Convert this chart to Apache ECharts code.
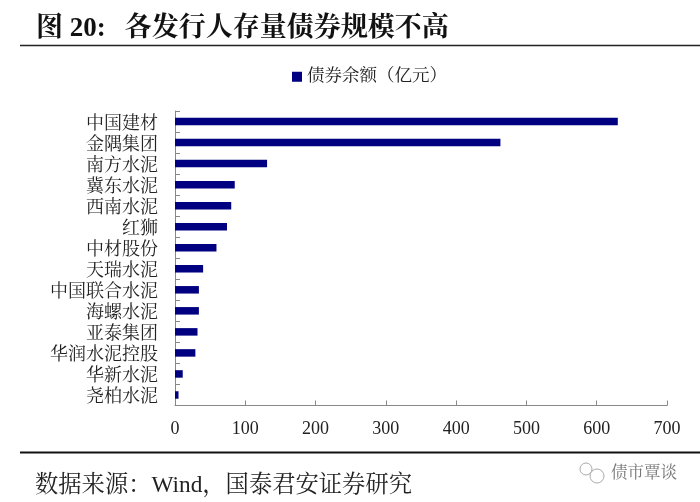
<!DOCTYPE html>
<html><head><meta charset="utf-8">
<style>html,body{margin:0;padding:0;background:#fff}#c{width:700px;height:502px}</style>
<script src="https://cdn.jsdelivr.net/npm/echarts@6/dist/echarts.min.js"></script>
</head><body><div id="c"></div>
<script>
const categories=["中国建材","金隅集团","南方水泥","冀东水泥","西南水泥","红狮","中材股份","天瑞水泥","中国联合水泥","海螺水泥","亚泰集团","华润水泥控股","华新水泥","尧柏水泥"];
const seriesName="债券余额（亿元）";
const values=[630,463,131,85,80,74,59,40,34,34,32,29,11,5];
const xTicks={min:0,max:700,interval:100};
const titleText="图 20:  \u2009各发行人存量债券规模不高";
const sourceText="数据来源：Wind，国泰君安证券研究";
const watermark="债市覃谈";
const ff='"Liberation Serif","Noto Serif CJK SC","Noto Sans CJK SC",serif';
const chart=echarts.init(document.getElementById('c'),null,{renderer:'canvas'});
chart.setOption({
 animation:false,backgroundColor:'#fff',
 title:{text:titleText,left:36,top:16,padding:0,textStyle:{fontFamily:ff,fontSize:27,fontWeight:'bold',color:'#111'}},
 legend:{data:[seriesName],left:292,top:68,padding:0,itemWidth:10,itemHeight:10,itemGap:6,icon:'rect',
  textStyle:{fontFamily:ff,fontSize:17.5,color:'#222'}},
 grid:{left:175,right:33,top:111,bottom:96.5,containLabel:false},
 xAxis:{type:'value',min:xTicks.min,max:xTicks.max,interval:xTicks.interval,splitLine:{show:false},
  axisLine:{show:true,lineStyle:{color:'#888'}},
  axisTick:{show:true,inside:true,length:5,lineStyle:{color:'#888'}},
  axisLabel:{fontFamily:ff,fontSize:18,color:'#222',margin:15}},
 yAxis:{type:'category',inverse:true,data:categories,
  axisLine:{show:true,lineStyle:{color:'#888'}},
  axisTick:{show:true,inside:true,length:5,alignWithLabel:false,lineStyle:{color:'#888'}},
  axisLabel:{fontFamily:ff,fontSize:18,color:'#222',margin:17,interval:0,verticalAlign:'top',lineHeight:5}},
 series:[{name:seriesName,type:'bar',data:values,barWidth:7.5,itemStyle:{color:'#000080'}}],
 graphic:[
  {type:'line',silent:true,shape:{x1:20,y1:45.5,x2:700,y2:45.5},style:{stroke:'#222',lineWidth:1.5}},
  {type:'line',silent:true,shape:{x1:20,y1:452.5,x2:700,y2:452.5},style:{stroke:'#111',lineWidth:2}},
  {type:'text',left:35,top:474,silent:true,style:{text:sourceText,fontFamily:ff,fontSize:23.3,fill:'#222'}},
  {type:'text',left:611,top:465,silent:true,style:{text:watermark,fontFamily:ff,fontSize:16.5,fill:'#777'}},
  {type:'circle',silent:true,shape:{cx:586,cy:469,r:6},style:{fill:'none',stroke:'#aaa',lineWidth:1}},
  {type:'circle',silent:true,shape:{cx:597,cy:476,r:7},style:{fill:'#fff',stroke:'#aaa',lineWidth:1}}
 ]
});
</script></body></html>
